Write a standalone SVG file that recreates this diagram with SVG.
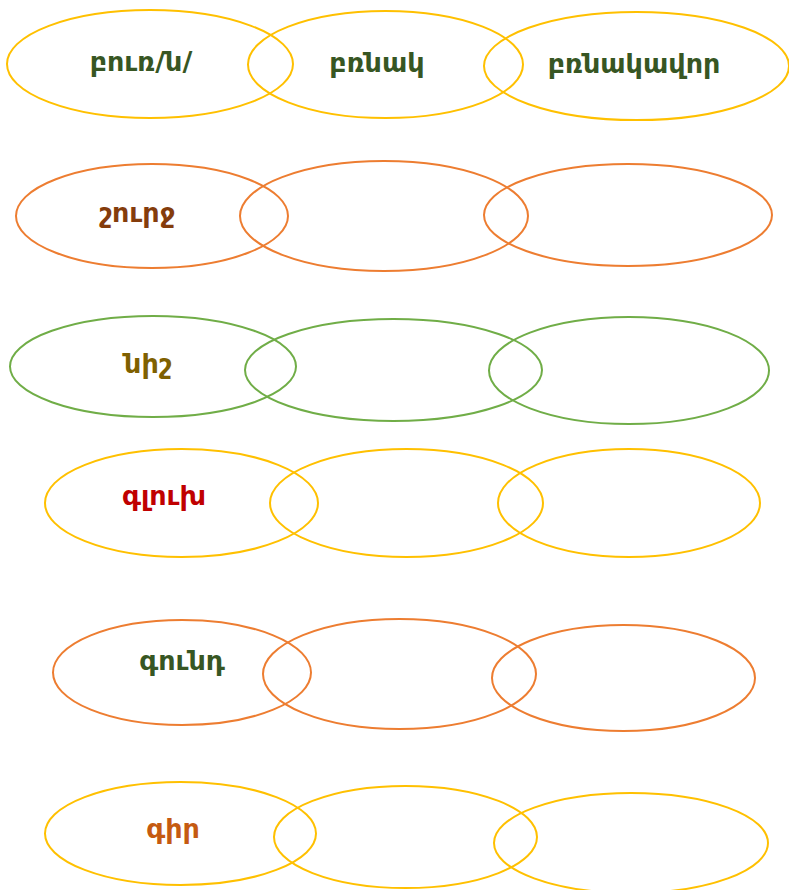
<svg xmlns="http://www.w3.org/2000/svg" width="789" height="890" viewBox="0 0 789 890">
<style>
ellipse{fill:none;stroke-width:2}
.y{stroke:#FFC000}.o{stroke:#ED7D31}.g{stroke:#70AD47}
text{font-family:"DejaVu Sans","Noto Sans",sans-serif;font-weight:bold;font-size:27px;text-anchor:middle}
</style>
<rect width="789" height="890" fill="#fff"/>
<g id="row1">
<g id="n1a"><ellipse class="y" cx="150" cy="64" rx="143" ry="54"/><text x="141" y="71" fill="#375623">բուռ/ն/</text></g>
<g id="n1b"><ellipse class="y" cx="385.5" cy="64.5" rx="137.5" ry="53.5"/><text x="377" y="72" fill="#375623">բռնակ</text></g>
<g id="n1c"><ellipse class="y" cx="636.5" cy="66" rx="152.5" ry="54"/><text x="634" y="73" fill="#375623">բռնակավոր</text></g>
</g>
<g id="row2">
<g id="n2a"><ellipse class="o" cx="152" cy="216" rx="136" ry="52"/><text x="137" y="222" fill="#843C0C">շուրջ</text></g>
<g id="n2b"><ellipse class="o" cx="384" cy="216" rx="144" ry="55"/></g>
<g id="n2c"><ellipse class="o" cx="628" cy="215" rx="144" ry="51"/></g>
</g>
<g id="row3">
<g id="n3a"><ellipse class="g" cx="153" cy="366.5" rx="143" ry="50.5"/><text x="148" y="373" fill="#7F6000">նիշ</text></g>
<g id="n3b"><ellipse class="g" cx="393.5" cy="370" rx="148.5" ry="51"/></g>
<g id="n3c"><ellipse class="g" cx="629" cy="370.5" rx="140" ry="53.5"/></g>
</g>
<g id="row4">
<g id="n4a"><ellipse class="y" cx="181.5" cy="503" rx="136.5" ry="54"/><text x="164" y="505" fill="#C00000">գլուխ</text></g>
<g id="n4b"><ellipse class="y" cx="406.5" cy="503" rx="136.5" ry="54"/></g>
<g id="n4c"><ellipse class="y" cx="629" cy="503" rx="131" ry="54"/></g>
</g>
<g id="row5">
<g id="n5a"><ellipse class="o" cx="182" cy="672.5" rx="129" ry="52.5"/><text x="182" y="670" fill="#375623">գունդ</text></g>
<g id="n5b"><ellipse class="o" cx="399.5" cy="674" rx="136.5" ry="55"/></g>
<g id="n5c"><ellipse class="o" cx="623.5" cy="678" rx="131.5" ry="53"/></g>
</g>
<g id="row6">
<g id="n6a"><ellipse class="y" cx="180.5" cy="833.5" rx="135.5" ry="51.5"/><text x="173" y="838" fill="#C55A11">գիր</text></g>
<g id="n6b"><ellipse class="y" cx="405.5" cy="837" rx="131.5" ry="51"/></g>
<g id="n6c"><ellipse class="y" cx="631" cy="843" rx="137" ry="50"/></g>
</g>
<g id="connectors"/>
</svg>
